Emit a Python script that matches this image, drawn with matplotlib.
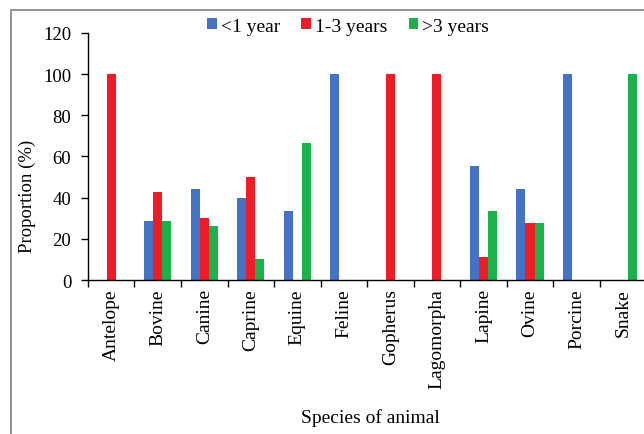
import matplotlib
matplotlib.use("Agg")
from matplotlib import pyplot as plt
from matplotlib.patches import Rectangle
import numpy

# data
species = ["Antelope", "Bovine", "Canine", "Caprine", "Equine", "Feline",
           "Gopherus", "Lagomorpha", "Lapine", "Ovine", "Porcine", "Snake"]
under_1 = [0, 28.6, 44.0, 40.0, 33.3, 100, 0, 0, 55.6, 44.4, 100, 0]
years_1_3 = [100, 42.9, 30.0, 50.0, 0, 0, 100, 100, 11.1, 27.8, 0, 0]
over_3 = [0, 28.6, 26.0, 10.0, 66.7, 0, 0, 0, 33.3, 27.8, 0, 100]
series_names = ["<1 year", "1-3 years", ">3 years"]
colors = ["#4472C4", "#EE1C25", "#1DB14B"]


def main():
    plt.rcParams["font.family"] = ["Liberation Serif", "DejaVu Serif"]
    fig = plt.figure(figsize=(6.44, 4.35), dpi=100)
    ax = fig.add_axes([0.1366, 0.354, 0.867, 0.568])

    ind = numpy.arange(len(species))
    width = 0.195
    for k, (vals, name) in enumerate(zip([under_1, years_1_3, over_3], series_names)):
        ax.bar(ind + (k - 1) * width, vals, width, color=colors[k], label=name)

    ax.set_xlim(-0.5, len(species) - 0.5)
    ax.set_ylim(0, 120)
    ax.set_yticks(range(0, 121, 20))
    ax.tick_params(axis="y", labelsize=13.5, direction="out", length=5, width=1, pad=7)

    ax.set_xticks(ind)
    ax.set_xticklabels(species, rotation=90, fontsize=14)
    ax.tick_params(axis="x", which="major", length=0, pad=6)
    ax.set_xticks(numpy.arange(-0.5, len(species), 1), minor=True)
    ax.tick_params(axis="x", which="minor", length=5, width=1, direction="out")

    ax.spines["top"].set_visible(False)
    ax.spines["right"].set_visible(False)
    ax.spines["left"].set_linewidth(1)
    ax.spines["bottom"].set_linewidth(1)

    ax.set_ylabel("Proportion (%)", fontsize=13.5)
    ax.yaxis.set_label_coords(-0.093, 0.344)
    fig.text(0.575, 0.04, "Species of animal", fontsize=14, ha="center", va="center")

    ax.legend(loc="center", bbox_to_anchor=(0.466, 1.028), ncol=3, frameon=False,
              fontsize=14, handlelength=0.5, handleheight=0.5, handletextpad=0.2,
              columnspacing=1.1, borderaxespad=0, borderpad=0)

    # outer frame, only top and left edges visible
    fig.patches.append(Rectangle((0.0165, -0.1), 1.2, 1.075, transform=fig.transFigure,
                                 fill=False, edgecolor="#808080", linewidth=1.2))

    fig.savefig("out.png", dpi=100)


if __name__ == "__main__":
    main()
